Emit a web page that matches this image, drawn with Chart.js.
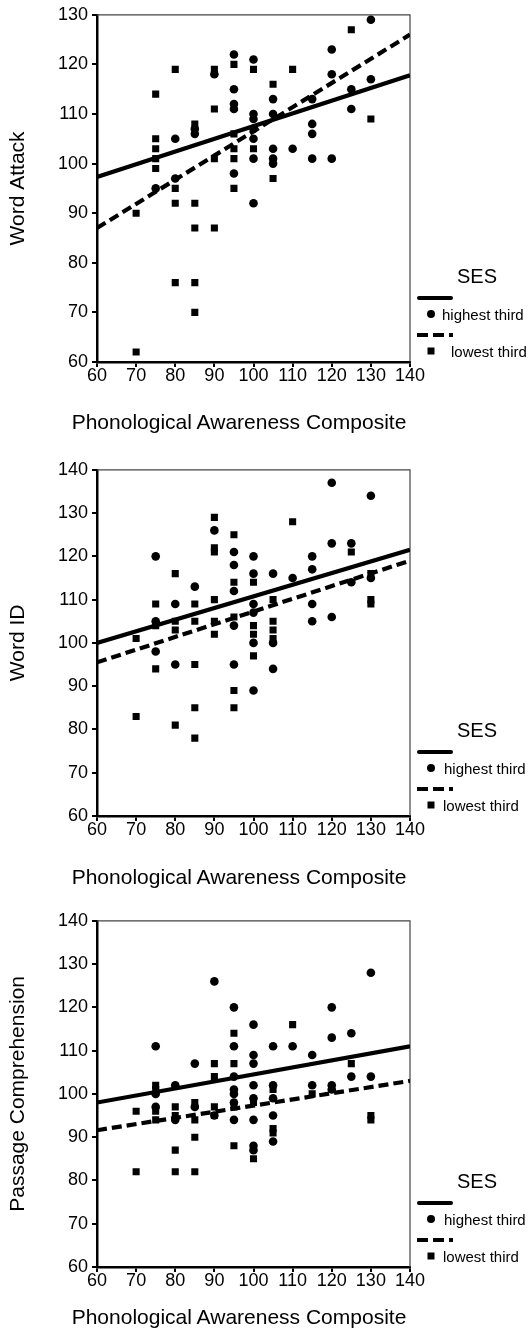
<!DOCTYPE html>
<html>
<head>
<meta charset="utf-8">
<script src="https://cdn.jsdelivr.net/npm/chart.js@4.4.1/dist/chart.umd.min.js"></script>
<style>
  html, body { margin: 0; padding: 0; background: #fff; }
  body { width: 530px; height: 1334px; position: relative; overflow: hidden;
         font-family: "Liberation Sans", Arial, sans-serif; color: #000; }
  .panel { position: absolute; left: 0; width: 530px; }
  .panel canvas { position: absolute; left: 0; top: 0; }
  .xtitle { position: absolute; font-size: 21px; white-space: nowrap; transform: translate(-50%, -50%); }
  .ses { position: absolute; font-size: 20px; transform: translate(-50%, -50%); }
  .lg-line { position: absolute; height: 4px; background: #000; border-radius: 2px; }
  .lg-dash { position: absolute; height: 4px;
             background: repeating-linear-gradient(90deg, #000 0 11px, transparent 11px 16px); }
  .lg-dot { position: absolute; width: 8px; height: 8px; border-radius: 50%; background: #000; transform: translate(-50%, -50%); }
  .lg-sq { position: absolute; width: 7px; height: 7px; background: #000; transform: translate(-50%, -50%); }
  .lg-text { position: absolute; font-size: 15px; white-space: nowrap; transform: translateY(-50%); }
</style>
</head>
<body>

<div class="panel" id="p1" style="top:0px;height:445px"><canvas id="c1" width="530" height="445"></canvas></div>
<div class="panel" id="p2" style="top:455px;height:445px"><canvas id="c2" width="530" height="445"></canvas></div>
<div class="panel" id="p3" style="top:906px;height:428px"><canvas id="c3" width="530" height="428"></canvas></div>

<script>
// ===== DATA =====
const xTicks = [60, 70, 80, 90, 100, 110, 120, 130, 140];
const lineX = [60, 140];

// Word Attack
const waHighX = [75, 80, 80, 85, 85, 90, 95, 95, 95, 95, 95, 100, 100, 100, 100, 100, 100, 100,
                 105, 105, 105, 105, 105, 110, 115, 115, 115, 115, 120, 120, 120, 125, 125, 130, 130];
const waHighY = [95, 105, 97, 107, 106, 118, 122, 115, 112, 111, 98, 121, 110, 109, 107, 105, 101, 92,
                 113, 110, 103, 101, 100, 103, 113, 108, 106, 101, 123, 118, 101, 115, 111, 129, 117];
const waLowX = [70, 70, 75, 75, 75, 75, 75, 80, 80, 80, 80, 85, 85, 85, 85, 85, 90, 90, 90, 90,
                95, 95, 95, 95, 95, 100, 100, 105, 105, 110, 125, 130];
const waLowY = [90, 62, 114, 105, 103, 101, 99, 119, 95, 92, 76, 108, 92, 87, 76, 70, 119, 111, 101, 87,
                120, 106, 103, 101, 95, 119, 103, 116, 97, 119, 127, 109];
const waSolid = [97.3, 117.8];
const waDashed = [87, 126];

// Word ID
const wiHighX = [75, 75, 75, 80, 80, 85, 90, 95, 95, 95, 95, 95, 100, 100, 100, 100, 100, 100,
                 105, 105, 105, 110, 115, 115, 115, 115, 120, 120, 120, 125, 125, 130, 130];
const wiHighY = [120, 105, 98, 109, 95, 113, 126, 121, 118, 112, 104, 95, 120, 116, 109, 107, 100, 89,
                 116, 100, 94, 115, 120, 117, 109, 105, 137, 123, 106, 123, 114, 134, 115];
const wiLowX = [70, 70, 75, 75, 75, 80, 80, 80, 80, 85, 85, 85, 85, 85, 90, 90, 90, 90, 90, 90,
                95, 95, 95, 95, 95, 100, 100, 100, 100, 105, 105, 105, 105, 110, 125, 130, 130, 130];
const wiLowY = [101, 83, 109, 104, 94, 116, 105, 103, 81, 109, 105, 95, 85, 78, 129, 122, 121, 110, 105, 102,
                125, 114, 106, 89, 85, 114, 104, 102, 97, 110, 105, 103, 101, 128, 121, 116, 110, 109];
const wiSolid = [100, 121.5];
const wiDashed = [95.5, 119];

// Passage Comprehension
const pcHighX = [75, 75, 75, 80, 80, 85, 85, 90, 90, 95, 95, 95, 95, 95, 95, 95,
                 100, 100, 100, 100, 100, 100, 100, 100, 105, 105, 105, 105, 105,
                 110, 115, 115, 120, 120, 120, 120, 125, 125, 130, 130];
const pcHighY = [111, 100, 97, 102, 94, 107, 97, 126, 95, 120, 111, 104, 101, 100, 98, 94,
                 116, 109, 107, 102, 99, 94, 88, 87, 111, 102, 99, 95, 89,
                 111, 109, 102, 120, 113, 102, 101, 114, 104, 128, 104];
const pcLowX = [70, 70, 75, 75, 75, 75, 80, 80, 80, 80, 85, 85, 85, 85, 90, 90, 90, 90,
                95, 95, 95, 95, 100, 100, 105, 105, 105, 110, 115, 125, 130, 130];
const pcLowY = [96, 82, 102, 101, 96, 94, 97, 95, 87, 82, 98, 94, 90, 82, 107, 104, 97, 95,
                114, 107, 97, 88, 98, 85, 101, 92, 91, 116, 100, 107, 95, 94];
const pcSolid = [98, 111];
const pcDashed = [91.6, 103];

// ===== HELPERS =====
const FONT = "'Liberation Sans', Arial, sans-serif";

function pts(xs, ys) {
    return xs.map((x, i) => ({ x: x, y: ys[i] }));
}

// thin top / right frame around the plot
const framePlugin = {
    id: "frame",
    beforeDatasetsDraw(chart) {
        const { ctx, chartArea: a } = chart;
        ctx.save();
        ctx.strokeStyle = "#444";
        ctx.lineWidth = 1.2;
        ctx.beginPath();
        ctx.moveTo(a.left, a.top);
        ctx.lineTo(a.right, a.top);
        ctx.lineTo(a.right, a.bottom);
        ctx.stroke();
        ctx.restore();
    }
};

function makePanel(cfg) {
    new Chart(document.getElementById(cfg.canvas), {
        type: "scatter",
        data: {
            datasets: [
                {
                    data: pts(lineX, cfg.solid), showLine: true, pointRadius: 0,
                    borderColor: "#000", borderWidth: 4.2
                },
                {
                    data: pts(lineX, cfg.dashed), showLine: true, pointRadius: 0,
                    borderColor: "#000", borderWidth: 4.2, borderDash: [10, 5]
                },
                {
                    data: pts(cfg.highX, cfg.highY), pointStyle: "circle", pointRadius: 4.3,
                    backgroundColor: "#000", borderWidth: 0
                },
                {
                    data: pts(cfg.lowX, cfg.lowY), pointStyle: "rect", pointRadius: 5,
                    backgroundColor: "#000", borderWidth: 0
                }
            ]
        },
        options: {
            responsive: false,
            animation: false,
            devicePixelRatio: 1,
            layout: { padding: { left: 0, right: 120, top: 13, bottom: 0 } },
            plugins: { legend: { display: false }, tooltip: { enabled: false } },
            scales: {
                x: {
                    type: "linear", min: 60, max: 140,
                    afterBuildTicks: s => { s.ticks = xTicks.map(v => ({ value: v })); },
                    afterFit: s => { s.height = cfg.xHeight; },
                    ticks: { color: "#000", padding: 0, font: { family: FONT, size: 18, lineHeight: 1 } },
                    grid: { drawOnChartArea: false, drawTicks: true, tickLength: 5, color: "#000", lineWidth: 2 },
                    border: { display: true, color: "#000", width: 2.5 }
                },
                y: {
                    type: "linear", min: 60, max: cfg.yTicks[cfg.yTicks.length - 1],
                    afterBuildTicks: s => { s.ticks = cfg.yTicks.map(v => ({ value: v })); },
                    afterFit: s => { s.width = 97; },
                    ticks: { color: "#000", padding: 4, font: { family: FONT, size: 18 } },
                    grid: { drawOnChartArea: false, drawTicks: true, tickLength: 5, color: "#000", lineWidth: 2 },
                    border: { display: true, color: "#000", width: 2.5 },
                    title: {
                        display: true, text: cfg.yTitle, color: "#000",
                        padding: { top: 6, bottom: 0 }, font: { family: FONT, size: 21 }
                    }
                }
            }
        },
        plugins: [framePlugin]
    });

    // axis title and SES legend as page text
    const panel = document.getElementById(cfg.panel);
    const b = cfg.bottom;
    panel.insertAdjacentHTML("beforeend", `
        <div class="xtitle" style="left:239px;top:${cfg.titleY}px">Phonological Awareness Composite</div>
        <div class="ses" style="left:477px;top:${b - 86}px">SES</div>
        <div class="lg-line" style="left:417px;width:36px;top:${b - 66}px"></div>
        <div class="lg-dot" style="left:431px;top:${b - 48}px"></div>
        <div class="lg-text" style="left:${cfg.hiText}px;top:${b - 48}px">highest third</div>
        <div class="lg-dash" style="left:417px;width:36px;top:${b - 29}px"></div>
        <div class="lg-sq" style="left:431px;top:${b - 11}px"></div>
        <div class="lg-text" style="left:${cfg.loText}px;top:${b - 11}px">lowest third</div>
    `);
}

makePanel({
    canvas: "c1", panel: "p1", yTitle: "Word Attack",
    yTicks: [60, 70, 80, 90, 100, 110, 120, 130],
    highX: waHighX, highY: waHighY, lowX: waLowX, lowY: waLowY,
    solid: waSolid, dashed: waDashed,
    xHeight: 83, bottom: 362, titleY: 422, hiText: 442, loText: 451
});

makePanel({
    canvas: "c2", panel: "p2", yTitle: "Word ID",
    yTicks: [60, 70, 80, 90, 100, 110, 120, 130, 140],
    highX: wiHighX, highY: wiHighY, lowX: wiLowX, lowY: wiLowY,
    solid: wiSolid, dashed: wiDashed,
    xHeight: 84, bottom: 361, titleY: 422, hiText: 444, loText: 443
});

makePanel({
    canvas: "c3", panel: "p3", yTitle: "Passage Comprehension",
    yTicks: [60, 70, 80, 90, 100, 110, 120, 130, 140],
    highX: pcHighX, highY: pcHighY, lowX: pcLowX, lowY: pcLowY,
    solid: pcSolid, dashed: pcDashed,
    xHeight: 67, bottom: 361, titleY: 411, hiText: 444, loText: 443
});
</script>
</body>
</html>
